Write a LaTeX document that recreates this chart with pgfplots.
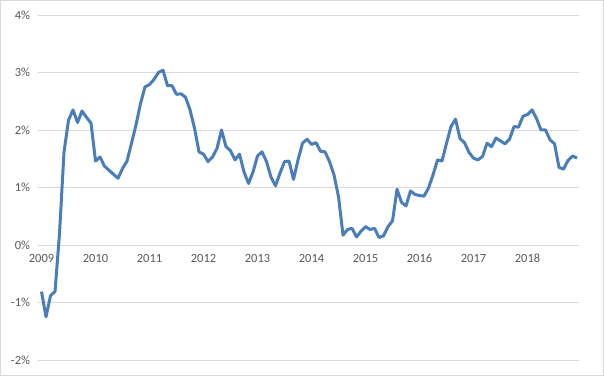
\documentclass[border=0pt]{standalone}
\usepackage{pgfplots}
\pgfplotsset{compat=1.18}
\usepackage{fontspec}
\setmainfont{Carlito}
\definecolor{serie}{HTML}{4A7EBB}
\definecolor{gridc}{HTML}{D9D9D9}
\definecolor{labc}{HTML}{595959}
\begin{document}
\begin{tikzpicture}
\draw[color=gridc, line width=1bp] (0.5bp,0.5bp) rectangle (603.5bp,375.5bp);
\begin{axis}[
  at={(38.5bp,16bp)}, anchor=south west,
  scale only axis, width=540.5bp, height=345bp,
  xmin=-0.67, xmax=119.44, ymin=-2, ymax=4,
  ytick={-2,-1,0,1,2,3,4},
  yticklabels={-2\%,-1\%,0\%,1\%,2\%,3\%,4\%},
  xtick={0,12,24,36,48,60,72,84,96,108},
  xticklabels={2009,2010,2011,2012,2013,2014,2015,2016,2017,2018},
  ymajorgrids, grid style={color=gridc, line width=0.75bp},
  major tick length=0pt,
  axis x line*=middle, x axis line style={color=gridc, line width=0.75bp},
  axis y line*=left, y axis line style={draw=none},
  hide obscured y ticks=false, hide obscured x ticks=false,
  tick label style={color=labc, font=\fontsize{12.5}{14}\selectfont},
  yticklabel style={xshift=-5bp},
  xticklabel style={yshift=-5.5bp},
  clip=false,
]
\addplot[color=serie, line width=3bp, line join=round, mark=none] coordinates {
(0,-0.81)(1,-1.25)(2,-0.88)(3,-0.81)(4,0.2)(5,1.62)(6,2.17)(7,2.35)(8,2.13)(9,2.33)(10,2.22)(11,2.12)
(12,1.46)(13,1.53)(14,1.37)(15,1.30)(16,1.23)(17,1.16)(18,1.33)(19,1.46)(20,1.77)(21,2.09)(22,2.46)(23,2.75)
(24,2.79)(25,2.88)(26,3.0)(27,3.04)(28,2.77)(29,2.77)(30,2.62)(31,2.63)(32,2.57)(33,2.35)(34,2.03)(35,1.62)
(36,1.58)(37,1.45)(38,1.53)(39,1.68)(40,2.0)(41,1.71)(42,1.64)(43,1.48)(44,1.58)(45,1.27)(46,1.07)(47,1.27)
(48,1.55)(49,1.62)(50,1.45)(51,1.18)(52,1.03)(53,1.25)(54,1.45)(55,1.46)(56,1.14)(57,1.48)(58,1.77)(59,1.84)
(60,1.75)(61,1.78)(62,1.63)(63,1.62)(64,1.45)(65,1.22)(66,0.84)(67,0.17)(68,0.27)(69,0.29)(70,0.14)(71,0.24)
(72,0.32)(73,0.27)(74,0.29)(75,0.13)(76,0.16)(77,0.32)(78,0.42)(79,0.97)(80,0.74)(81,0.68)(82,0.94)(83,0.88)
(84,0.86)(85,0.85)(86,0.99)(87,1.22)(88,1.48)(89,1.46)(90,1.77)(91,2.06)(92,2.19)(93,1.85)(94,1.78)(95,1.61)
(96,1.51)(97,1.48)(98,1.54)(99,1.77)(100,1.71)(101,1.86)(102,1.81)(103,1.76)(104,1.84)(105,2.06)(106,2.05)(107,2.24)
(108,2.27)(109,2.35)(110,2.2)(111,2.0)(112,2.0)(113,1.83)(114,1.76)(115,1.35)(116,1.32)(117,1.47)(118,1.55)(119,1.51)
};
\end{axis}
\end{tikzpicture}
\end{document}
